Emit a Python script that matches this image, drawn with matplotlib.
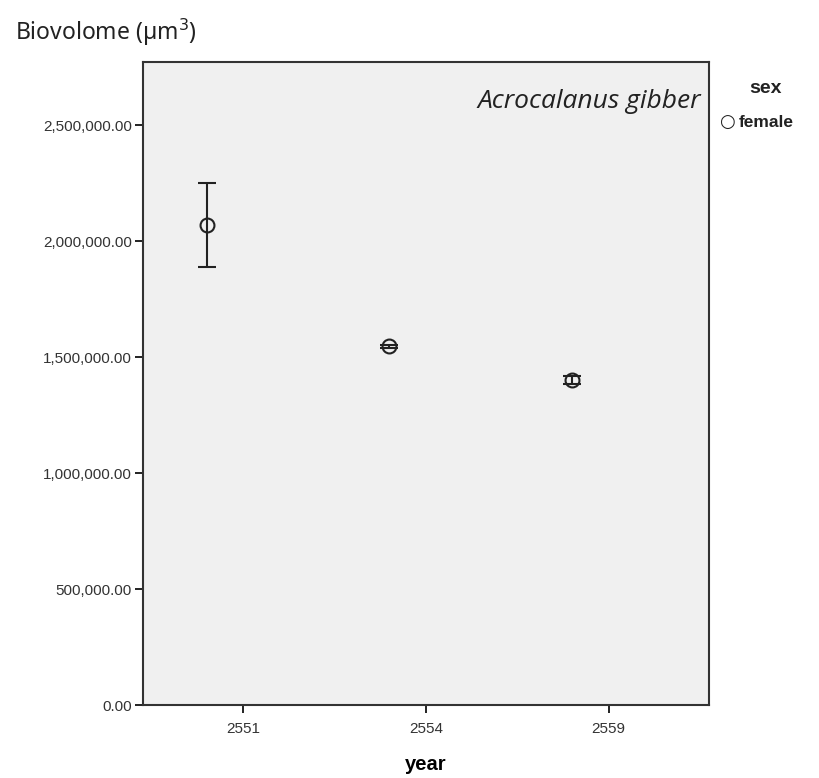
import numpy as np
import matplotlib.pyplot as plt

# data (female only, mean with error bars)
years = ["2551", "2554", "2559"]
biovolume_mean = [2069000, 1547000, 1401000]
err_lower = [181000, 6000, 18000]
err_upper = [181000, 6000, 18000]
dodge = [-0.2, -0.2, -0.2]   # SPSS clusters female to the left of the category centre

x = np.arange(len(years))

fig = plt.figure(figsize=(8.19, 7.78), dpi=100)
ax = fig.add_axes([0.1746, 0.0938, 0.6911, 0.8265])
ax.set_facecolor("#f0f0f0")

ax.errorbar(x + np.array(dodge), biovolume_mean,
            yerr=[err_lower, err_upper],
            fmt="o", mfc="none", mec="#222222", ms=10, mew=1.5,
            ecolor="#222222", elinewidth=1.5, capsize=6.5, capthick=1.5)

ax.set_xlim(-0.55, 2.55)
ax.set_ylim(0, 2772000)
ax.set_xticks(x)
ax.set_xticklabels(years, family="Liberation Sans", fontsize=11, color="#333333")
yt = np.arange(0, 2500001, 500000)
ax.set_yticks(yt)
ax.set_yticklabels([f"{v:,.2f}" for v in yt], family="Liberation Sans", fontsize=11, color="#333333")
ax.tick_params(direction="out", length=6, width=1.4, color="#222222")
ax.tick_params(axis="x", pad=6)
ax.tick_params(axis="y", pad=2)

for s in ax.spines.values():
    s.set_color("#333333")
    s.set_linewidth(1.5)

ax.set_xlabel("year", family="Liberation Sans", fontweight="bold", fontsize=14.5, labelpad=14)

ax.text(0.985, 0.958, "Acrocalanus gibber", transform=ax.transAxes,
        ha="right", va="top", fontsize=19, style="italic", family="Open Sans", color="#222222")

fig.text(0.018, 0.958, "Biovolome (µm$^3$)", family="Noto Sans", fontsize=16.5, color="#222222",
         ha="left", va="center")

# legend drawn in the right margin like SPSS
fig.text(0.935, 0.886, "sex", family="Liberation Sans", fontweight="bold", fontsize=14,
         ha="center", va="center", color="#222222")
fig.text(0.888, 0.843, "○", family="DejaVu Sans", fontsize=13, ha="center", va="center", color="#222222")
fig.text(0.902, 0.843, "female", family="Liberation Sans", fontweight="bold", fontsize=12.5,
         ha="left", va="center", color="#222222")

fig.savefig("out.png", dpi=100, facecolor="white")
